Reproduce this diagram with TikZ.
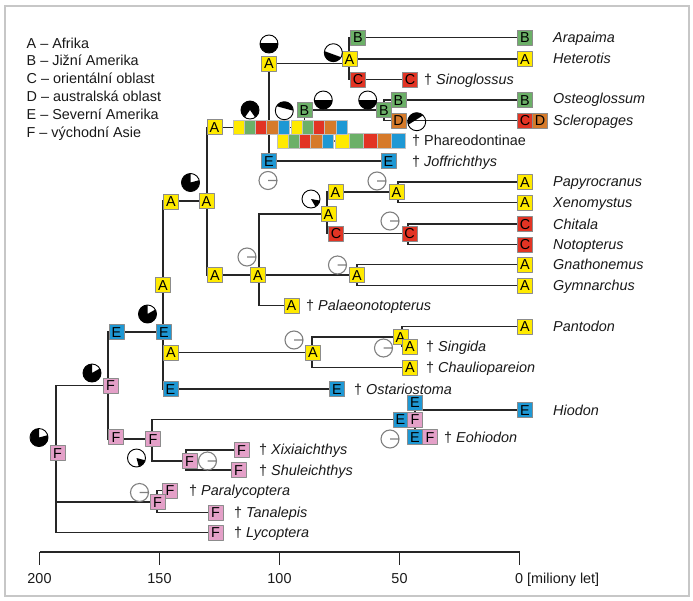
\documentclass[tikz,border=0pt]{standalone}
\usepackage{fontspec}
\setmainfont{Liberation Sans}
\usetikzlibrary{backgrounds}

\begin{document}
\begin{tikzpicture}[x=1pt,y=-1pt,line join=round]
  % Local definitions
  \def\pr{9}
  \def\figfont{\fontsize{14.4}{17}\selectfont}
  \def\segpie(#1)#2#3{\fill[black] (#1) ++(#2:\pr) arc[start angle=#2,end angle=#3,radius=\pr] -- cycle;
    \draw[fullpie] (#1) circle[radius=\pr];}
  \def\wedgepie(#1)#2#3{\fill[black] (#1) -- ++(#2:\pr) arc[start angle=#2,end angle=#3,radius=\pr] -- cycle;
    \draw[fullpie] (#1) circle[radius=\pr];}

  % Colors
  \definecolor{areaAcolor}{RGB}{255,234,0}
  \definecolor{areaBcolor}{RGB}{108,176,104}
  \definecolor{areaCcolor}{RGB}{226,52,36}
  \definecolor{areaDcolor}{RGB}{214,122,42}
  \definecolor{areaEcolor}{RGB}{30,152,212}
  \definecolor{areaFcolor}{RGB}{228,160,200}
  \colorlet{branchcolor}{black!85}
  \colorlet{framecolor}{black!22}
  \colorlet{emptypiecolor}{black!50}

  % Styles
  \tikzstyle{area}=[draw=black!45,line width=0.6pt,minimum size=15pt,inner sep=0pt,
    text height=10.3pt,text depth=0pt,font=\figfont]
  \tikzstyle{areaA}=[area,fill=areaAcolor]
  \tikzstyle{areaB}=[area,fill=areaBcolor]
  \tikzstyle{areaC}=[area,fill=areaCcolor]
  \tikzstyle{areaD}=[area,fill=areaDcolor]
  \tikzstyle{areaE}=[area,fill=areaEcolor]
  \tikzstyle{areaF}=[area,fill=areaFcolor]
  \tikzstyle{cell}=[draw=black!25,line width=0.4pt,minimum width=11.2pt,minimum height=14pt,inner sep=0pt]
  \tikzstyle{bigcell}=[draw=black!25,line width=0.4pt,minimum width=14pt,minimum height=15pt,inner sep=0pt]
  \tikzstyle{branch}=[branchcolor,line width=1.4pt]
  \tikzstyle{taxon}=[anchor=west,inner sep=0pt,text height=10.3pt,text depth=0pt,font=\figfont\itshape,black!90]
  \tikzstyle{fossil}=[anchor=west,inner sep=0pt,text height=10.3pt,text depth=0pt,font=\figfont,black!90]
  \tikzstyle{legend}=[anchor=west,inner sep=0pt,text height=10.3pt,text depth=0pt,font=\figfont,black!90]
  \tikzstyle{axisline}=[black!85,line width=1.6pt]
  \tikzstyle{fullpie}=[black,line width=0.9pt]
  \tikzstyle{emptypie}=[emptypiecolor,line width=1.1pt]

  \useasboundingbox (0,0) rectangle (693,600);

  % Legend
  \foreach \txt [count=\i from 0] in {A – Afrika, B – Jižní Amerika, C – orientální oblast,
      D – australská oblast, E – Severní Amerika, F – východní Asie}
    \node[legend] (legend\i) at (26.5,{43+17.8*\i}) {\txt};

  % Living taxa
  \node[areaB] (tArap) at (525,37.5) {B};
  \node[areaA] (tHet) at (525,59) {A};
  \node[areaB] (tOst) at (525,100) {B};
  \node[areaC] (tSclC) at (525,120.5) {C};
  \node[areaD] (tSclD) at (540,120.5) {D};
  \node[areaA] (tPap) at (525,182) {A};
  \node[areaA] (tXen) at (525,202.5) {A};
  \node[areaC] (tChi) at (525,224) {C};
  \node[areaC] (tNot) at (525,244.5) {C};
  \node[areaA] (tGna) at (525,264.5) {A};
  \node[areaA] (tGym) at (525,285.5) {A};
  \node[areaA] (tPan) at (525,326.5) {A};
  \node[areaE] (tHio) at (525,410) {E};

  % Fossil taxa
  \node[areaC] (fSin) at (410,79.5) {C};
  \foreach \c [count=\i from 0] in {areaAcolor,areaBcolor,areaCcolor,areaDcolor,areaEcolor}
    \node[bigcell,fill=\c] (fPhar-\i) at ({342+14*\i},140.5) {};
  \node[areaE] (fJof) at (388.5,161) {E};
  \node[areaA] (fPal) at (291.5,305.5) {A};
  \node[areaA] (fChau) at (410,367.5) {A};
  \node[areaE] (fOsta) at (337,389) {E};
  \node[areaE] (fEohE) at (415,437) {E};
  \node[areaF] (fEohF) at (430,437) {F};
  \node[areaF] (fXix) at (241.5,450) {F};
  \node[areaF] (fShu) at (238.5,470) {F};
  \node[areaF] (fPara) at (170,490.5) {F};
  \node[areaF] (fTan) at (215.5,512.5) {F};
  \node[areaF] (fLyc) at (215.5,532.5) {F};

  % Ancestral areas
  \node[areaF] (bRoot) at (57.5,453) {F};
  \node[areaF] (bF1) at (110.5,385.5) {F};
  \node[areaE] (bE1) at (116.5,332) {E};
  \node[areaF] (bF2) at (116,437) {F};
  \node[areaE] (bE2) at (164,332) {E};
  \node[areaA] (bA1) at (163,285) {A};
  \node[areaA] (bA2) at (171,201.5) {A};
  \node[areaA] (bA3) at (206.5,201) {A};
  \node[areaA] (bA4) at (171,352.5) {A};
  \node[areaE] (bE5) at (170.5,389) {E};
  \node[areaA] (bA5) at (214.5,127) {A};
  \node[areaA] (bA6) at (215,275) {A};
  \node[areaA] (bA7) at (258,275) {A};
  \node[areaA] (bA8) at (269,63.5) {A};
  \node[areaE] (bE3) at (269,161) {E};
  \foreach \c [count=\i from 0] in {areaAcolor,areaBcolor,areaCcolor,areaDcolor,areaEcolor} {
    \node[cell,fill=\c] (s1-\i) at ({238.6+11.2*\i},127.5) {};
    \node[cell,fill=\c] (s2-\i) at ({296.6+11.2*\i},127.5) {};
    \node[cell,fill=\c] (s3-\i) at ({282.6+11.2*\i},141.5) {};
  }
  \node[areaB] (bB1) at (304.5,110) {B};
  \node[areaB] (bB2) at (384,110) {B};
  \node[areaB] (bB3) at (398.5,100) {B};
  \node[areaD] (bD1) at (398.5,120.5) {D};
  \node[areaA] (bA9) at (349.5,59) {A};
  \node[areaB] (bB4) at (358,37.5) {B};
  \node[areaC] (bC1) at (358,79.5) {C};
  \node[areaA] (bA10) at (328.5,214) {A};
  \node[areaA] (bA11) at (335.5,192) {A};
  \node[areaC] (bC2) at (336,233.5) {C};
  \node[areaA] (bA12) at (396.5,192) {A};
  \node[areaC] (bC3) at (409.5,233.5) {C};
  \node[areaA] (bA13) at (357,275) {A};
  \node[areaA] (bA14) at (313,352.5) {A};
  \node[areaA] (bA15) at (400.5,337) {A};
  \node[areaA] (fSing) at (410,346.5) {A};
  \node[areaF] (bF3) at (153,439) {F};
  \node[areaE] (bE4) at (415,402.5) {E};
  \node[areaE] (bHioE) at (400.5,419.5) {E};
  \node[areaF] (bHioF) at (415,419.5) {F};
  \node[areaF] (bF4) at (189.5,461) {F};
  \node[areaF] (bF5) at (157.5,502) {F};

  % Junctions
  \coordinate (jRoot) at (56,453);
  \coordinate (jHioOst) at (108,386);
  \coordinate (jOsteo) at (163,332);
  \coordinate (jCrown) at (207,201);
  \coordinate (jArap) at (349,63.5);
  \coordinate (jOstScl) at (384,110);
  \coordinate (jNoto) at (259,275);
  \coordinate (jNotop) at (327,214);
  \coordinate (jPapXen) at (398,192);
  \coordinate (jChiNot) at (408,233.5);
  \coordinate (jMorm) at (357,275);
  \coordinate (jPant) at (312,352.5);
  \coordinate (jPanSing) at (402,337);
  \coordinate (jHiod) at (152,439);
  \coordinate (jXixShu) at (186,461);
  \coordinate (jLyc) at (157,502);

  % Branches
  \begin{scope}[on background layer]
    \draw[framecolor,line width=1.2pt] (5,6) rectangle (689,596);
    \draw[branch] (bF1) -| (jRoot) |- (fLyc);
    \draw[branch] (jRoot) |- (bF5);
    \draw[branch] (bE2) -| (jHioOst) |- (bF3);
    \draw[branch] (bA3) -| (jOsteo) |- (fOsta);
    \draw[branch] (jOsteo) |- (bA14);
    \draw[branch] (s1-0) -| (jCrown) |- (bA7);
    \draw[branch] (bA8) -- (bE3);
    \draw[branch] (bA8) -- (jArap);
    \draw[branch] (bE3) -- (fJof);
    \draw[branch] (s1-4) -- (s2-0);
    \draw[branch] (bB1) -- (bB1 |- s2-0);
    \draw[branch] (bB1) -- (bB2);
    \draw[branch] (s3-4) -- (fPhar-0);
    \draw[branch] (bB3) -| (jOstScl) |- (bD1);
    \draw[branch] (bB3) -- (tOst);
    \draw[branch] (bD1) -- (tSclC);
    \draw[branch] (bB4) -| (jArap) |- (bC1);
    \draw[branch] (bB4) -- (tArap);
    \draw[branch] (bA9) -- (tHet);
    \draw[branch] (bC1) -- (fSin);
    \draw[branch] (bA10) -| (jNoto) |- (fPal);
    \draw[branch] (jNoto) -- (bA13);
    \draw[branch] (bA11) -| (jNotop) |- (bC2);
    \draw[branch] (bA11) -- (bA12);
    \draw[branch] (bC2) -- (bC3);
    \draw[branch] (tPap) -| (jPapXen) |- (tXen);
    \draw[branch] (tChi) -| (jChiNot) |- (tNot);
    \draw[branch] (tGna) -| (jMorm) |- (tGym);
    \draw[branch] (bA15) -| (jPant) |- (fChau);
    \draw[branch] (tPan) -| (jPanSing) |- (fSing);
    \draw[branch] (bHioE) -| (jHiod) |- (bF4);
    \draw[branch] (bE4) -- (fEohE);
    \draw[branch] (bE4.east |- tHio) -- (tHio);
    \draw[branch] (fXix) -| (jXixShu) |- (fShu);
    \draw[branch] (fPara) -| (jLyc) |- (fTan);
  \end{scope}

  % Names
  \node[taxon] (nArap) at (553,37.5) {Arapaima};
  \node[taxon] (nHet) at (553,58) {Heterotis};
  \node[taxon] (nOst) at (553,98.5) {Osteoglossum};
  \node[taxon] (nScl) at (553,120.5) {Scleropages};
  \node[taxon] (nPap) at (553,181.5) {Papyrocranus};
  \node[taxon] (nXen) at (553,202.5) {Xenomystus};
  \node[taxon] (nChi) at (553,224) {Chitala};
  \node[taxon] (nNot) at (553,244.5) {Notopterus};
  \node[taxon] (nGna) at (553,264.5) {Gnathonemus};
  \node[taxon] (nGym) at (553,285.5) {Gymnarchus};
  \node[taxon] (nPan) at (553,326.5) {Pantodon};
  \node[taxon] (nHio) at (553,410) {Hiodon};
  \node[fossil] (nSin) at (424,79.5) {† \textit{Sinoglossus}};
  \node[fossil] (nPhar) at (412,140.5) {† Phareodontinae};
  \node[fossil] (nJof) at (412,161.5) {† \textit{Joffrichthys}};
  \node[fossil] (nPal) at (306,305.5) {† \textit{Palaeonotopterus}};
  \node[fossil] (nSing) at (426,346.5) {† \textit{Singida}};
  \node[fossil] (nChau) at (426,367.5) {† \textit{Chauliopareion}};
  \node[fossil] (nOsta) at (354,389) {† \textit{Ostariostoma}};
  \node[fossil] (nEoh) at (444,437) {† \textit{Eohiodon}};
  \node[fossil] (nXix) at (259,449.5) {† \textit{Xixiaichthys}};
  \node[fossil] (nShu) at (259,470) {† \textit{Shuleichthys}};
  \node[fossil] (nPara) at (189,490.5) {† \textit{Paralycoptera}};
  \node[fossil] (nTan) at (234,512.5) {† \textit{Tanalepis}};
  \node[fossil] (nLyc) at (234,532.5) {† \textit{Lycoptera}};

  % Probabilities
  \segpie(269,44){-5}{185}
  \segpie(333.3,52.7){30}{190}
  \wedgepie(250,110){125}{415}
  \segpie(284.3,110.7){210}{360}
  \segpie(323.3,100){0}{180}
  \segpie(367.7,100){0}{180}
  \segpie(416.7,121.7){160}{315}
  \wedgepie(311,199){10}{60}
  \wedgepie(147.5,314){330}{630}
  \wedgepie(92,373){330}{630}
  \wedgepie(39,437.5){345}{630}
  \wedgepie(136.5,458){15}{75}
  \wedgepie(190.5,182.5){345}{630}
  \foreach \x/\y in {268/180.5, 377/181, 390/221, 247/257, 337.5/265, 294/340,
      383.5/348, 390/439, 207.5/461, 139.5/492.5}
    \draw[emptypie] (\x,\y) circle[radius=\pr] -- ++(0:\pr);

  % Time axis
  \draw[axisline] (39.5,552) -- (519.5,552);
  \foreach \t in {200,150,100,50,0}
    \draw[axisline] ({519.5-2.4*\t},552) -- ++(0,13);
  \foreach \t in {200,150,100,50}
    \node[legend,anchor=center] (year\t) at ({519.5-2.4*\t},578) {\t};
  \node[legend] (year0) at (515,578) {0 [miliony let]};
\end{tikzpicture}
\end{document}
